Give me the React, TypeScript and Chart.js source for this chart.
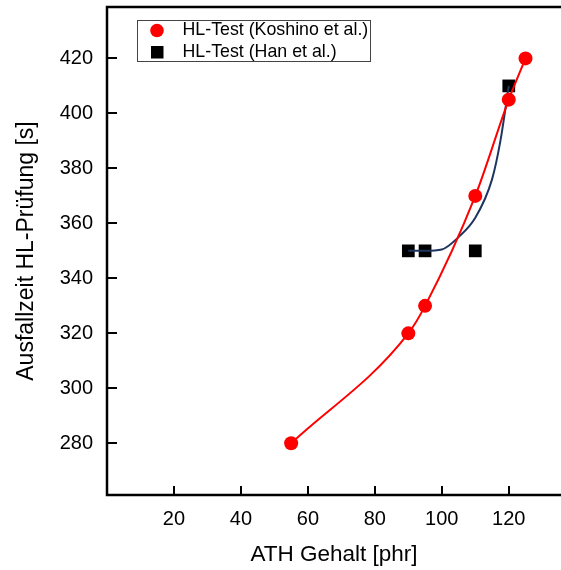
import React, { useEffect, useRef } from "react";
import { Chart, registerables } from "chart.js";

Chart.register(...registerables);

const koshinoX = [55, 90, 95, 110, 120, 125];
const koshinoY = [280, 320, 330, 370, 405, 420];
const hanX = [90, 95, 110, 120];
const hanY = [350, 350, 350, 410];
const hanFitX = [90, 95, 100, 105, 110, 115, 117.5, 120];
const hanFitY = [350, 350, 350.5, 355, 362, 376, 390, 410];
const xTicks = [20, 40, 60, 80, 100, 120];
const yTicks = [280, 300, 320, 340, 360, 380, 400, 420];
const legendLabels = ["HL-Test (Koshino et al.)", "HL-Test (Han et al.)"];
const xTitle = "ATH Gehalt [phr]";
const yTitle = "Ausfallzeit HL-Prüfung [s]";

const FAMILY = "'Liberation Sans', Arial, Helvetica, sans-serif";
const RED = "#ff0000";
const NAVY = "#1e3560";

const framePlugin = {
  id: "frameAndLegend",
  afterDraw(chart: any) {
    const ctx = chart.ctx as CanvasRenderingContext2D;
    const { left, top, right, bottom } = chart.chartArea;
    const xs = chart.scales.x;
    const ys = chart.scales.y;
    ctx.save();
    ctx.strokeStyle = "#000";
    ctx.lineWidth = 2.5;
    ctx.beginPath();
    ctx.moveTo(right + 2, top);
    ctx.lineTo(left, top);
    ctx.lineTo(left, bottom);
    ctx.lineTo(right + 2, bottom);
    ctx.stroke();
    ctx.lineWidth = 2;
    ctx.beginPath();
    xTicks.forEach((v) => {
      const px = Math.round(xs.getPixelForValue(v));
      ctx.moveTo(px, bottom);
      ctx.lineTo(px, bottom - 9);
    });
    yTicks.forEach((v) => {
      const py = Math.round(ys.getPixelForValue(v));
      ctx.moveTo(left, py);
      ctx.lineTo(left + 10, py);
    });
    ctx.stroke();

    // legend
    const bx = 137.5, by = 20.5, bw = 233, bh = 41;
    ctx.fillStyle = "#fff";
    ctx.fillRect(bx, by, bw, bh);
    ctx.strokeStyle = "#444";
    ctx.lineWidth = 1;
    ctx.strokeRect(bx, by, bw, bh);
    ctx.fillStyle = RED;
    ctx.beginPath();
    ctx.arc(157, 30.5, 6.8, 0, Math.PI * 2);
    ctx.fill();
    ctx.fillStyle = "#000";
    ctx.fillRect(151, 46, 12.5, 12.5);
    ctx.font = `17.8px ${FAMILY}`;
    ctx.textBaseline = "middle";
    ctx.textAlign = "left";
    ctx.fillStyle = "#000";
    ctx.fillText(legendLabels[0], 182.5, 30.5);
    ctx.fillText(legendLabels[1], 182.5, 52.5);
    ctx.restore();
  },
};

export default function App() {
  const ref = useRef<HTMLCanvasElement | null>(null);
  useEffect(() => {
    if (!ref.current) return;
    const chart = new Chart(ref.current, {
      type: "scatter",
      data: {
        datasets: [
          {
            label: legendLabels[0],
            data: koshinoX.map((x, i) => ({ x, y: koshinoY[i] })),
            showLine: true,
            borderColor: RED,
            borderWidth: 2,
            backgroundColor: RED,
            pointBackgroundColor: RED,
            pointBorderWidth: 0,
            pointRadius: 7,
            pointStyle: "circle",
            cubicInterpolationMode: "monotone",
            order: 1,
          } as any,
          {
            label: "fit",
            data: hanFitX.map((x, i) => ({ x, y: hanFitY[i] })),
            showLine: true,
            borderColor: NAVY,
            borderWidth: 2,
            pointRadius: 0,
            cubicInterpolationMode: "monotone",
            order: 2,
          } as any,
          {
            label: legendLabels[1],
            data: hanX.map((x, i) => ({ x, y: hanY[i] })),
            showLine: false,
            backgroundColor: "#000",
            pointBackgroundColor: "#000",
            pointBorderColor: "#333",
            pointBorderWidth: 0,
            pointRadius: 9,
            pointStyle: "rect",
            order: 3,
          } as any,
        ],
      },
      options: {
        responsive: false,
        animation: false,
        devicePixelRatio: 1,
        layout: { autoPadding: false, padding: { top: 7, left: 0, right: 0, bottom: 0 } },
        plugins: { legend: { display: false }, tooltip: { enabled: false } },
        scales: {
          x: {
            type: "linear",
            min: 0,
            max: 135.6,
            afterBuildTicks: (s: any) => {
              s.ticks = xTicks.map((v) => ({ value: v }));
            },
            afterFit: (s: any) => {
              s.height = 75;
              s.paddingLeft = 0;
              s.paddingRight = 0;
              s.paddingTop = 0;
              s.paddingBottom = 0;
            },
            grid: { display: false, drawTicks: false },
            border: { display: false },
            ticks: {
              font: { family: FAMILY, size: 20 },
              color: "#000",
              padding: 12,
              maxRotation: 0,
              autoSkip: false,
            },
            title: {
              display: true,
              text: xTitle,
              font: { family: FAMILY, size: 22.5 },
              color: "#000",
              padding: { top: 0, bottom: 2 },
            },
          },
          y: {
            type: "linear",
            min: 261.2,
            max: 438.7,
            afterBuildTicks: (s: any) => {
              s.ticks = yTicks.map((v) => ({ value: v }));
            },
            afterFit: (s: any) => {
              s.width = 107;
              s.paddingLeft = 0;
              s.paddingRight = 0;
              s.paddingTop = 0;
              s.paddingBottom = 0;
            },
            grid: { display: false, drawTicks: false },
            border: { display: false },
            ticks: {
              font: { family: FAMILY, size: 20 },
              color: "#000",
              padding: 14,
              autoSkip: false,
            },
            title: {
              display: true,
              text: yTitle,
              font: { family: FAMILY, size: 23 },
              color: "#000",
              padding: { top: 13, bottom: 0 },
            },
          },
        },
      } as any,
      plugins: [framePlugin],
    });
    return () => chart.destroy();
  }, []);
  return (
    <div style={{ position: "absolute", left: 0, top: 0, width: 561, height: 570, overflow: "hidden", background: "#fff" }}>
      <canvas ref={ref} width={561} height={570} style={{ display: "block" }} />
    </div>
  );
}
